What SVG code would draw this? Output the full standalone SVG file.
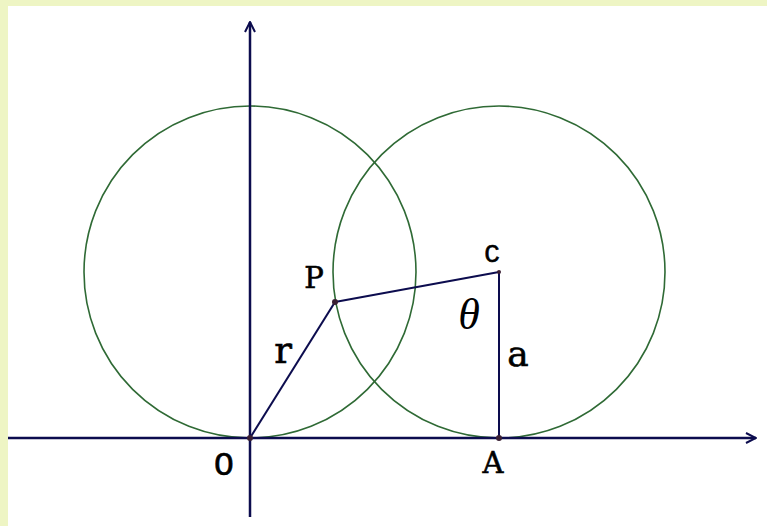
<svg xmlns="http://www.w3.org/2000/svg" width="767" height="526" viewBox="0 0 767 526">
<defs>
<style>
.axis{stroke:#0c0c4e;stroke-width:2.5;fill:none}
.seg{stroke:#0c0c4e;stroke-width:2;fill:none}
.circ{stroke:#2f6a35;stroke-width:1.6;fill:none}
.dot{fill:#3a1f33}
.lbl{font-family:"DejaVu Serif",serif;fill:#000;stroke:#000;stroke-width:0.6}
</style>
<marker id="ah" viewBox="0 0 12 12" refX="11" refY="6" markerWidth="12" markerHeight="12" markerUnits="userSpaceOnUse" orient="auto">
<path d="M1,1 L11,6 L1,11" fill="none" stroke="#0c0c4e" stroke-width="2"/>
</marker>
</defs>
<rect width="767" height="526" fill="#eef5c4"/>
<rect x="8" y="6" width="759" height="520" fill="#ffffff"/>
<g id="circles">
<circle id="circleO" class="circ" cx="250" cy="272" r="166"/>
<circle id="circleC" class="circ" cx="499" cy="272" r="166"/>
</g>
<g id="connectors">
<line class="axis" x1="8" y1="438" x2="756" y2="438" marker-end="url(#ah)"/>
<line class="axis" x1="250" y1="517" x2="250" y2="22" marker-end="url(#ah)"/>
<line class="seg" x1="250" y1="438" x2="335" y2="302"/>
<line class="seg" x1="335" y1="302" x2="499" y2="272"/>
<line class="seg" x1="499" y1="272" x2="499" y2="438"/>
</g>
<g id="O"><circle class="dot" cx="250" cy="438" r="3"/><text x="224" y="475" font-family="Liberation Mono, monospace" font-size="33" text-anchor="middle" stroke="#000" stroke-width="0.6">O</text></g>
<g id="A"><circle class="dot" cx="499" cy="438" r="3"/><text class="lbl" x="493" y="473" font-size="29" text-anchor="middle">A</text></g>
<g id="P"><circle class="dot" cx="335" cy="302" r="3"/><text class="lbl" x="314" y="288" font-size="29" text-anchor="middle">P</text></g>
<g id="C"><circle class="dot" cx="499" cy="272" r="2"/><text x="492" y="262" font-family="Liberation Mono, monospace" font-size="26" text-anchor="middle" stroke="#000" stroke-width="0.6">C</text></g>
<text id="a" class="lbl" x="518" y="366" font-size="36" text-anchor="middle">a</text>
<text id="r" class="lbl" x="283" y="363" font-size="37" text-anchor="middle">r</text>
<text id="theta" x="469" y="329" font-family="Liberation Serif, serif" font-style="italic" font-size="44" text-anchor="middle">θ</text>
</svg>
